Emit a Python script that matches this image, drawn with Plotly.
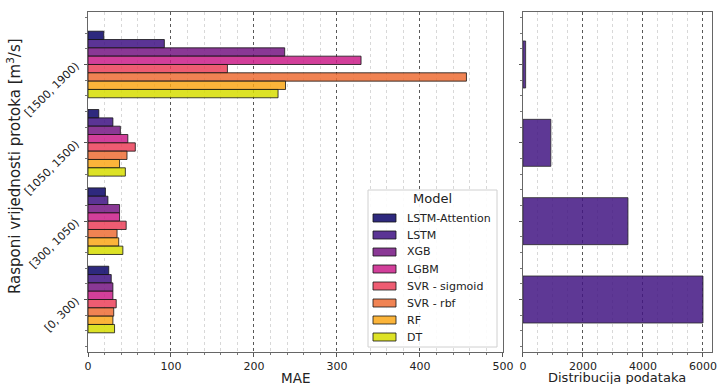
import plotly.graph_objects as go

# Flow ranges (top to bottom) and models
flow_ranges = ["[1500, 1900)", "[1050, 1500)", "[300, 1050)", "[0, 300)"]
models = ["LSTM-Attention", "LSTM", "XGB", "LGBM", "SVR - sigmoid", "SVR - rbf", "RF", "DT"]

# MAE per flow range for each model
mae_lstm_attention = [19, 13, 21, 25]
mae_lstm = [92, 30, 24, 28]
mae_xgb = [237, 39, 38, 30]
mae_lgbm = [329, 48, 38, 30]
mae_svr_sigmoid = [168, 57, 46, 34]
mae_svr_rbf = [456, 47, 35, 31]
mae_rf = [238, 38, 37, 30]
mae_dt = [229, 45, 42, 32]

# Number of samples per flow range
sample_count = [90, 930, 3500, 6000]

mae_series = [mae_lstm_attention, mae_lstm, mae_xgb, mae_lgbm,
              mae_svr_sigmoid, mae_svr_rbf, mae_rf, mae_dt]

# Plasma-like palette as it appears on white, drawn with transparency
shown_colors = ["#2e2a7e", "#5b3595", "#8a3896", "#d23f9a",
                "#ee5c72", "#f08353", "#fbb43a", "#dde21c"]
ALPHA = 0.85


def with_alpha(hex_color, a=ALPHA):
    h = hex_color.lstrip("#")
    rgb = [int(h[i:i + 2], 16) for i in (0, 2, 4)]
    base = [max(0, min(255, round((c - (1 - a) * 255) / a))) for c in rgb]
    return f"rgba({base[0]},{base[1]},{base[2]},{a})"


FONT = "DejaVu Sans"
W, H = 718, 384
ML, MR, MT, MB = 88, 6, 12, 32
PW, PH = W - ML - MR, H - MT - MB


def px_x(px):
    return (px - ML) / PW


def px_y(py):
    return (H - MB - py) / PH


y_idx = list(range(len(flow_ranges)))

fig = go.Figure()

for name, vals, col in zip(models, mae_series, shown_colors):
    fig.add_trace(go.Bar(
        x=vals, y=y_idx, orientation="h", name=name, showlegend=False,
        marker=dict(color=with_alpha(col), line=dict(color="rgba(20,20,20,0.8)", width=1)),
        xaxis="x", yaxis="y",
    ))

fig.add_trace(go.Bar(
    x=sample_count, y=y_idx, orientation="h", name="Distribucija",
    showlegend=False, width=0.6, offset=-0.3,
    marker=dict(color=with_alpha("#5e3896"), line=dict(color="rgba(40,40,40,0.8)", width=1)),
    xaxis="x2", yaxis="y2",
))

axis_line = dict(showline=True, linecolor="#666", linewidth=1, mirror=True,
                 zeroline=False, automargin=False, ticklabeloverflow="allow",
                 tickfont=dict(family=FONT, size=11, color="#222"))

y_range = [3.67, -0.67]

# Legend box drawn as shapes + annotations (matplotlib-style wide swatches)
shapes = [dict(type="rect", xref="paper", yref="paper",
               x0=px_x(368), x1=px_x(497), y0=px_y(347), y1=px_y(190),
               fillcolor="rgba(255,255,255,0.9)", line=dict(color="#d0d0d0", width=1), layer="above")]
annotations = [dict(text="Model", xref="paper", yref="paper", x=px_x(432), y=px_y(198),
                    showarrow=False, xanchor="center", yanchor="middle",
                    font=dict(family=FONT, size=13, color="#222"))]
for i, (name, col) in enumerate(zip(models, shown_colors)):
    cy = 218 + 17 * i
    shapes.append(dict(type="rect", xref="paper", yref="paper",
                       x0=px_x(373), x1=px_x(396), y0=px_y(cy + 4), y1=px_y(cy - 4),
                       fillcolor=with_alpha(col), line=dict(color="rgba(20,20,20,0.8)", width=1),
                       layer="above"))
    annotations.append(dict(text=name, xref="paper", yref="paper", x=px_x(405), y=px_y(cy),
                            showarrow=False, xanchor="left", yanchor="middle",
                            font=dict(family=FONT, size=11, color="#222")))

# Axis titles
annotations.append(dict(text="Rasponi vrijednosti protoka [m<sup>3</sup>/s]",
                        xref="paper", yref="paper", x=px_x(14), y=px_y(166),
                        showarrow=False, textangle=-90, xanchor="center", yanchor="middle",
                        font=dict(family=FONT, size=15, color="#222")))
annotations.append(dict(text="MAE", xref="paper", yref="paper", x=px_x(295), y=px_y(369),
                        showarrow=False, xanchor="center", yanchor="top", borderpad=0,
                        font=dict(family=FONT, size=13.5, color="#222")))
annotations.append(dict(text="Distribucija podataka", xref="paper", yref="paper",
                        x=px_x(617), y=px_y(369), showarrow=False,
                        xanchor="center", yanchor="top", borderpad=0,
                        font=dict(family=FONT, size=13, color="#222")))

fig.update_layout(
    width=W, height=H,
    margin=dict(l=ML, r=MR, t=MT, b=MB),
    paper_bgcolor="white", plot_bgcolor="white",
    barmode="group", bargap=0.15, bargroupgap=0,
    font=dict(family=FONT, color="#222"),
    showlegend=False,
    shapes=shapes, annotations=annotations,
    xaxis=dict(
        domain=[0, 0.665], range=[0, 500], tickmode="linear", tick0=0, dtick=100,
        showgrid=True, gridcolor="rgba(70,70,70,0.9)", griddash="dot", gridwidth=1,
        ticks="outside", ticklen=4, tickcolor="#555",
        minor=dict(dtick=20, tick0=0, showgrid=True, gridcolor="#d8d8d8", griddash="dot",
                   ticks="outside", ticklen=2, tickcolor="#777"),
        **axis_line,
    ),
    yaxis=dict(
        domain=[0, 1], range=y_range, tickmode="array", tickvals=y_idx, ticktext=flow_ranges,
        tickangle=-45, showgrid=False, ticks="outside", ticklen=3, tickcolor="#555",
        ticklabelstandoff=6,
        minor=dict(dtick=0.2, tick0=0, ticks="outside", ticklen=2, tickcolor="#777", showgrid=False),
        **axis_line,
    ),
    xaxis2=dict(
        domain=[0.697, 1.0], range=[0, 6300], anchor="y2", tickmode="linear", tick0=0, dtick=2000,
        showgrid=True, gridcolor="rgba(70,70,70,0.9)", griddash="dot", gridwidth=1,
        ticks="outside", ticklen=4, tickcolor="#555",
        minor=dict(dtick=500, tick0=0, showgrid=True, gridcolor="#d8d8d8", griddash="dot",
                   ticks="outside", ticklen=2, tickcolor="#777"),
        **axis_line,
    ),
    yaxis2=dict(
        domain=[0, 1], range=y_range, anchor="x2", tickmode="array", tickvals=y_idx,
        showticklabels=False, showgrid=False, ticks="outside", ticklen=3, tickcolor="#555",
        minor=dict(dtick=0.2, tick0=0, ticks="outside", ticklen=2, tickcolor="#777", showgrid=False),
        **axis_line,
    ),
)

fig.write_html("out.html")
